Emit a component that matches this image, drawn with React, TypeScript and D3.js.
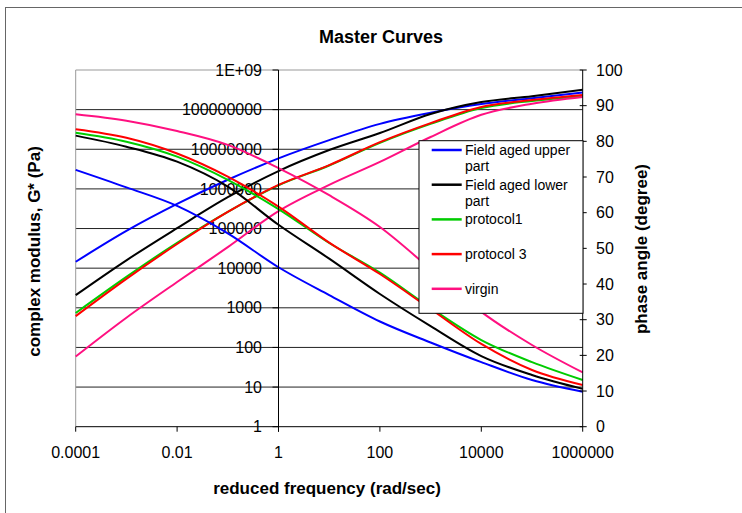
import React from "react";
import * as d3 from "d3";

// ---- data ----
const frequency = [1e-4, 1e-3, 1e-2, 1e-1, 1, 10, 100, 1e3, 1e4, 1e5, 1e6];

const gFieldUpper = [14500, 87000, 417000, 1700000, 5900000, 17000000, 43700000, 83200000, 138000000, 195000000, 269000000];
const gFieldLower = [2090, 15800, 102000, 617000, 2820000, 9550000, 25700000, 77600000, 155000000, 219000000, 316000000];
const gProtocol1 = [741, 6030, 43700, 263000, 1230000, 3890000, 14500000, 43700000, 110000000, 166000000, 219000000];
const gProtocol3 = [617, 5370, 40700, 263000, 1260000, 3980000, 15100000, 45700000, 117000000, 174000000, 234000000];
const gVirgin = [59, 562, 4470, 33900, 275000, 1260000, 4790000, 20400000, 74100000, 141000000, 209000000];

const phaseFieldUpper = [72.0, 67.1, 61.9, 54.2, 44.7, 36.9, 29.5, 23.6, 18.1, 13.1, 9.8];
const phaseFieldLower = [81.6, 78.5, 74.3, 67.3, 56.6, 47.1, 37.2, 28.2, 19.8, 14.5, 10.6];
const phaseProtocol1 = [82.4, 79.9, 75.7, 69.2, 61.0, 51.5, 43.2, 33.3, 24.3, 18.1, 13.1];
const phaseProtocol3 = [83.4, 81.0, 76.6, 70.1, 61.7, 51.6, 42.8, 33.0, 23.2, 15.9, 11.7];
const phaseVirgin = [87.6, 85.8, 82.9, 79.0, 72.5, 64.9, 56.0, 44.2, 32.2, 22.9, 15.2];

const seriesLabels = [
  ["Field aged upper", "part"],
  ["Field aged lower", "part"],
  ["protocol1"],
  ["protocol 3"],
  ["virgin"],
];
const seriesColors = ["#0000ff", "#000000", "#00cc00", "#ff0000", "#ff1080"];
const modulusSeries = [gFieldUpper, gFieldLower, gProtocol1, gProtocol3, gVirgin];
const phaseSeries = [phaseFieldUpper, phaseFieldLower, phaseProtocol1, phaseProtocol3, phaseVirgin];

const modulusTicks = [1, 10, 100, 1e3, 1e4, 1e5, 1e6, 1e7, 1e8, 1e9];
const modulusTickLabels = ["1", "10", "100", "1000", "10000", "100000", "1000000", "10000000", "100000000", "1E+09"];
const phaseTicks = [0, 10, 20, 30, 40, 50, 60, 70, 80, 90, 100];
const freqTicks = [1e-4, 1e-2, 1, 100, 1e4, 1e6];
const freqTickLabels = ["0.0001", "0.01", "1", "100", "10000", "1000000"];

const W = 742;
const H = 513;
const plotL = 75.7;
const plotR = 582.7;
const plotT = 70;
const plotB = 426.7;
const font = "Arial, 'Liberation Sans', sans-serif";

export default function App() {
  const x = d3.scaleLog().domain([1e-4, 1e6]).range([plotL, plotR]);
  const yG = d3.scaleLog().domain([1, 1e9]).range([plotB, plotT]);
  const yP = d3.scaleLinear().domain([0, 100]).range([plotB, plotT]);
  const axisX = x(1);

  const lineG = d3
    .line<number>()
    .x((_, i) => x(frequency[i]))
    .y((d) => yG(d))
    .curve(d3.curveMonotoneX);
  const lineP = d3
    .line<number>()
    .x((_, i) => x(frequency[i]))
    .y((d) => yP(d))
    .curve(d3.curveMonotoneX);

  const legL = 419;
  const legT = 140.7;
  const legR = 583;
  const legB = 313.3;
  const legY0 = 150;
  const legStep = 34.7;

  return (
    <svg
      width={W}
      height={H}
      style={{ position: "absolute", left: 0, top: 0, background: "#fff" }}
      fontFamily={font}
    >
      <rect x={0} y={0} width={W} height={H} fill="#fff" />
      <rect x={5.5} y={7.5} width={W + 20} height={H + 20} fill="none" stroke="#666" strokeWidth={1} />

      <text x={381} y={36.7} dy="0.35em" textAnchor="middle" fontSize={18} fontWeight="bold">
        Master Curves
      </text>

      {/* gridlines */}
      {modulusTicks.slice(1, -1).map((t) => (
        <line key={"g" + t} x1={plotL} x2={plotR} y1={yG(t)} y2={yG(t)} stroke="#222" strokeWidth={1} />
      ))}
      <line x1={plotL} x2={plotR} y1={plotT} y2={plotT} stroke="#999" strokeWidth={1} />
      <line x1={plotL} x2={plotL} y1={plotT} y2={plotB} stroke="#999" strokeWidth={1} />

      {/* left modulus axis labels (axis crosses at frequency 1) */}
      {modulusTicks.map((t, i) => (
        <text key={"ml" + t} x={262} y={yG(t)} dy="0.35em" textAnchor="end" fontSize={16}>
          {modulusTickLabels[i]}
        </text>
      ))}

      {/* curves */}
      {modulusSeries.map((s, i) => (
        <path key={"cg" + i} d={lineG(s) || ""} fill="none" stroke={seriesColors[i]} strokeWidth={2} />
      ))}
      {phaseSeries.map((s, i) => (
        <path key={"cp" + i} d={lineP(s) || ""} fill="none" stroke={seriesColors[i]} strokeWidth={2} />
      ))}

      {/* vertical modulus axis at x=1 */}
      <line x1={axisX} x2={axisX} y1={plotT} y2={plotB + 5} stroke="#000" strokeWidth={1} />
      {modulusTicks.map((t) => (
        <line key={"mt" + t} x1={axisX - 6} x2={axisX} y1={yG(t)} y2={yG(t)} stroke="#000" strokeWidth={1} />
      ))}

      {/* bottom axis */}
      <line x1={plotL} x2={plotR} y1={plotB} y2={plotB} stroke="#000" strokeWidth={1} />
      {freqTicks.map((t, i) => (
        <g key={"ft" + t}>
          <line x1={x(t)} x2={x(t)} y1={plotB} y2={plotB + 5} stroke="#000" strokeWidth={1} />
          <text x={x(t)} y={452.5} dy="0.35em" textAnchor="middle" fontSize={16}>
            {freqTickLabels[i]}
          </text>
        </g>
      ))}

      {/* right phase axis */}
      <line x1={plotR} x2={plotR} y1={plotT} y2={plotB} stroke="#000" strokeWidth={1} />
      {phaseTicks.map((t) => (
        <g key={"pt" + t}>
          <line x1={plotR - 3} x2={plotR + 4} y1={yP(t)} y2={yP(t)} stroke="#000" strokeWidth={1} />
          <text x={596} y={yP(t)} dy="0.35em" textAnchor="start" fontSize={16}>
            {t}
          </text>
        </g>
      ))}

      {/* axis titles */}
      <text x={327} y={488} dy="0.35em" textAnchor="middle" fontSize={17} fontWeight="bold">
        reduced frequency (rad/sec)
      </text>
      <text
        transform={`translate(34,251.5) rotate(-90)`}
        dy="0.35em"
        textAnchor="middle"
        fontSize={17}
        fontWeight="bold"
      >
        complex modulus, G* (Pa)
      </text>
      <text
        transform={`translate(641,249) rotate(-90)`}
        dy="0.35em"
        textAnchor="middle"
        fontSize={17}
        fontWeight="bold"
      >
        phase angle (degree)
      </text>

      {/* legend */}
      <rect x={legL} y={legT} width={legR - legL} height={legB - legT} fill="#fff" stroke="#000" strokeWidth={1} />
      {seriesLabels.map((lines, i) => {
        const ly = legY0 + i * legStep;
        return (
          <g key={"lg" + i}>
            <line x1={431.7} x2={461.7} y1={ly} y2={ly} stroke={seriesColors[i]} strokeWidth={2.5} />
            {lines.map((ln, j) => (
              <text key={j} x={465} y={ly + j * 16.5} dy="0.35em" fontSize={14}>
                {ln}
              </text>
            ))}
          </g>
        );
      })}
    </svg>
  );
}
